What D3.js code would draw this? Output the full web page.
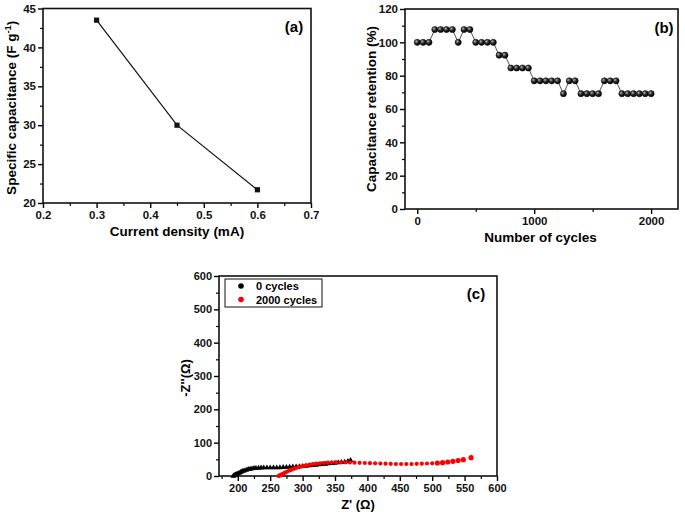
<!DOCTYPE html>
<html><head><meta charset="utf-8">
<script src="https://cdn.jsdelivr.net/npm/d3@7"></script>
<style>
body{margin:0;background:#fff;}
svg{font-family:"Liberation Sans",Arial,sans-serif;font-weight:bold;}
</style></head>
<body><svg id="c" width="685" height="519"></svg>
<script>
// Panel (a)
const aCurrent = [0.3, 0.45, 0.6];
const aCap = [43.5, 30.0, 21.7];
const aXTicks = [0.2,0.3,0.4,0.5,0.6,0.7];
const aYTicks = [20,25,30,35,40,45];
// Panel (b)
const bCycles = [0,50,100,150,200,250,300,350,400,450,500,550,600,650,700,750,800,850,900,950,1000,1050,1100,1150,1200,1250,1300,1350,1400,1450,1500,1550,1600,1650,1700,1750,1800,1850,1900,1950,2000];
const bRet = [100,100,100,107.7,107.7,107.7,107.7,100,107.7,107.7,100,100,100,100,92.3,92.3,84.6,84.6,84.6,84.6,76.9,76.9,76.9,76.9,76.9,69.2,76.9,76.9,69.2,69.2,69.2,69.2,76.9,76.9,76.9,69.2,69.2,69.2,69.2,69.2,69.2];
const bXTicks = [0,1000,2000];
const bYTicks = [0,20,40,60,80,100,120];
// Panel (c)
const c0Zr = [193,194,195,196,197,198,200,202,204,206,208,210,213,216,219,222,225,228,232,236,240,245,250,255,260,265,270,275,280,285,290,295,300,305,310,315,320,325,330,335,340,345,350,355,360,365,370,374];
const c0Zi = [0,1,2,3,4,5,7,9,11,13,15,16,18,20,21,22,23,23.5,24,24.5,25,25,25,25,25,25.5,26,26.5,27,27.5,28,28.5,29,30,31,32,33,34,35,36,37,38,39,40,41,42,44,47];
const c2Zr = [263,264,265,267,269,271,273,275,278,281,284,287,290,294,298,302,306,311,316,321,327,333,339,345,352,359,366,373,380,388,396,404,412,420,428,436,444,452,460,468,476,484,492,500,508,516,524,532,540,548,560];
const c2Zi = [0,1,2,4,6,8,10,12,15,17.5,20,22,24,26.5,28.5,30.5,32,34,35.5,37,38,39,40,40.5,41,41,41,40.5,40,39.5,39,38.5,38,37.5,37,36.5,36,36,36,36,36.5,37,37.5,38,39,40,42,44,46.5,49,55];
const cXTicks = [200,250,300,350,400,450,500,550,600];
const cYTicks = [0,100,200,300,400,500,600];
const legendLabels = ["0 cycles","2000 cycles"];
const seriesColors = ["#000000","#ff0000"];

const svg = d3.select("#c");
const defs = svg.append("defs");
const rg = defs.append("radialGradient").attr("id","ball").attr("cx","35%").attr("cy","35%").attr("r","65%");
rg.append("stop").attr("offset","0%").attr("stop-color","#bbb");
rg.append("stop").attr("offset","45%").attr("stop-color","#333");
rg.append("stop").attr("offset","100%").attr("stop-color","#000");

function frame(g, x, y, o){
  const [x0,x1] = x.range(), [y0,y1] = y.range();
  // minor ticks
  g.append("g").attr("transform",`translate(0,${y0})`)
    .call(d3.axisBottom(x).tickValues(o.xMinor).tickSize(3).tickFormat(""))
    .call(s=>{s.select(".domain").remove();s.selectAll("line").attr("stroke-width",1.2);});
  g.append("g").attr("transform",`translate(${x0},0)`)
    .call(d3.axisLeft(y).tickValues(o.yMinor).tickSize(3).tickFormat(""))
    .call(s=>{s.select(".domain").remove();s.selectAll("line").attr("stroke-width",1.2);});
  const ax = g.append("g").attr("transform",`translate(0,${y0})`)
    .call(d3.axisBottom(x).tickValues(o.xTicks).tickSize(5).tickPadding(3).tickFormat(o.xFmt));
  const ay = g.append("g").attr("transform",`translate(${x0},0)`)
    .call(d3.axisLeft(y).tickValues(o.yTicks).tickSize(5).tickPadding(2).tickFormat(o.yFmt));
  [ax,ay].forEach(a=>{
    a.select(".domain").remove();
    a.selectAll("line").attr("stroke-width",1.4);
    a.selectAll("text").attr("font-size",o.fs).attr("font-weight","bold").attr("fill","#111")
      .attr("font-family","Liberation Sans, Arial, sans-serif");
  });
  g.append("rect").attr("x",x0).attr("y",y1).attr("width",x1-x0).attr("height",y0-y1)
    .attr("fill","none").attr("stroke","#111").attr("stroke-width",1.6);
  g.append("text").attr("x",(x0+x1)/2+(o.xtdx||0)).attr("y",y0+o.xtdy).attr("text-anchor","middle")
    .attr("font-size",o.tfs).text(o.xTitle);
  const yt = g.append("text").attr("transform",`translate(${o.ytx},${(y0+y1)/2+(o.ytdy||0)}) rotate(-90)`)
    .attr("text-anchor","middle").attr("font-size",o.tfs);
  if(o.yTitleFn) o.yTitleFn(yt); else yt.text(o.yTitle);
  g.append("text").attr("x",o.lx).attr("y",o.ly).attr("font-size",15).attr("text-anchor","middle").text(o.label);
}

// ---- Panel (a)
{
  const g = svg.append("g");
  const x = d3.scaleLinear().domain([0.2,0.7]).range([43,311]);
  const y = d3.scaleLinear().domain([20,45]).range([203,8.5]);
  frame(g,x,y,{xTicks:aXTicks,yTicks:aYTicks,xMinor:[0.25,0.35,0.45,0.55,0.65],yMinor:[22.5,27.5,32.5,37.5,42.5],
    xFmt:d3.format(".1f"),yFmt:d3.format("d"),fs:11.5,tfs:13.5,xTitle:"Current density (mA)",xtdy:33,ytx:16,ytdy:2,
    yTitleFn:t=>{t.append("tspan").text("Specific capacitance (F g");t.append("tspan").attr("dy",-5).attr("font-size",9.5).text("-1");t.append("tspan").attr("dy",5).text(")");},
    label:"(a)",lx:294,ly:32});
  const pts = aCurrent.map((d,i)=>[d,aCap[i]]);
  g.append("path").datum(pts).attr("fill","none").attr("stroke","#111").attr("stroke-width",1.2)
    .attr("d",d3.line().x(d=>x(d[0])).y(d=>y(d[1])));
  g.selectAll(".sq").data(pts).join("rect").attr("x",d=>x(d[0])-2.6).attr("y",d=>y(d[1])-2.6)
    .attr("width",5.2).attr("height",5.2).attr("fill","#111");
}

// ---- Panel (b)
{
  const g = svg.append("g");
  const x = d3.scaleLinear().domain([-105,2230]).range([405,678]);
  const y = d3.scaleLinear().domain([0,120]).range([209,9]);
  frame(g,x,y,{xTicks:bXTicks,yTicks:bYTicks,xMinor:[500,1500],yMinor:[10,30,50,70,90,110],
    xFmt:d3.format("d"),yFmt:d3.format("d"),fs:11.5,tfs:13.5,xTitle:"Number of cycles",xtdx:-1,xtdy:33,ytx:376,ytdy:0,
    yTitle:"Capacitance retention (%)",label:"(b)",lx:664,ly:33});
  const pts = bCycles.map((d,i)=>[d,bRet[i]]);
  g.append("path").datum(pts).attr("fill","none").attr("stroke","#555").attr("stroke-width",1)
    .attr("d",d3.line().x(d=>x(d[0])).y(d=>y(d[1])));
  g.selectAll(".b").data(pts).join("circle").attr("cx",d=>x(d[0])).attr("cy",d=>y(d[1]))
    .attr("r",3.1).attr("fill","url(#ball)").attr("stroke","#000").attr("stroke-width",0.5);
}

// ---- Panel (c)
{
  const g = svg.append("g");
  const x = d3.scaleLinear().domain([171,600]).range([219,497]);
  const y = d3.scaleLinear().domain([0,600]).range([476,276]);
  frame(g,x,y,{xTicks:cXTicks,yTicks:cYTicks,xMinor:[175,225,275,325,375,425,475,525,575],yMinor:[50,150,250,350,450,550],
    xFmt:d3.format("d"),yFmt:d3.format("d"),fs:11,tfs:13,xTitle:"Z' (Ω)",xtdx:0,xtdy:33,ytx:190,ytdy:2,
    yTitle:"-Z''(Ω)",label:"(c)",lx:476,ly:299});
  const s0 = c0Zr.map((d,i)=>[d,c0Zi[i]]);
  const s2 = c2Zr.map((d,i)=>[d,c2Zi[i]]);
  const tri = d3.symbol().type(d3.symbolTriangle).size(14);
  g.selectAll(".s0").data(s0).join("path").attr("transform",d=>`translate(${x(d[0])},${y(d[1])})`)
    .attr("d",tri).attr("fill",seriesColors[0]);
  g.selectAll(".s2").data(s2).join("circle").attr("cx",d=>x(d[0])).attr("cy",d=>y(d[1]))
    .attr("r",d=>d[0]>500?2.6:2.1).attr("fill",seriesColors[1]);
  // legend
  const lg = g.append("g");
  lg.append("rect").attr("x",225).attr("y",279).attr("width",97).attr("height",28)
    .attr("fill","#fff").attr("stroke","#111").attr("stroke-width",1);
  legendLabels.forEach((t,i)=>{
    lg.append("circle").attr("cx",241).attr("cy",286+i*13.5).attr("r",2.8).attr("fill",seriesColors[i]);
    lg.append("text").attr("x",256).attr("y",290+i*13.5).attr("font-size",11).text(t);
  });
}
</script></body></html>
